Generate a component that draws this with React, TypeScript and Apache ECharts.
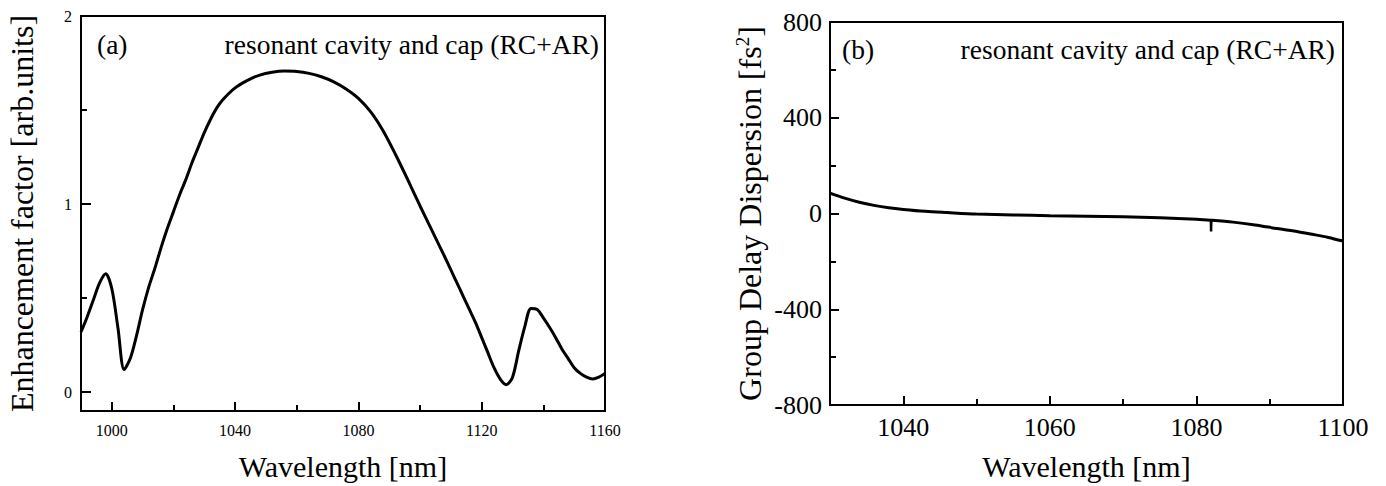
import React, { useEffect, useRef } from "react";
import * as echarts from "echarts";

// ---- Data (a): enhancement factor vs wavelength ----
const waveA = [990, 992, 994, 996, 998, 1000, 1002, 1004, 1006, 1008, 1010, 1012, 1014, 1016, 1018, 1020, 1022, 1024, 1026, 1028, 1030, 1032, 1034, 1036, 1040, 1044, 1048, 1052, 1056, 1060, 1064, 1068, 1072, 1076, 1080, 1084, 1088, 1092, 1096, 1100, 1104, 1108, 1110, 1112, 1114, 1116, 1118, 1120, 1122, 1124, 1126, 1128, 1130, 1132, 1134, 1136, 1138, 1140, 1142, 1144, 1146, 1148, 1150, 1152, 1154, 1156, 1158, 1160];
const enhA = [0.32, 0.40, 0.49, 0.58, 0.63, 0.55, 0.34, 0.12, 0.18, 0.30, 0.44, 0.56, 0.66, 0.77, 0.87, 0.96, 1.05, 1.13, 1.22, 1.30, 1.38, 1.45, 1.51, 1.555, 1.618, 1.658, 1.686, 1.701, 1.707, 1.705, 1.695, 1.677, 1.65, 1.612, 1.562, 1.49, 1.39, 1.265, 1.13, 0.99, 0.855, 0.72, 0.65, 0.58, 0.51, 0.44, 0.37, 0.29, 0.21, 0.13, 0.07, 0.04, 0.08, 0.22, 0.35, 0.445, 0.44, 0.395, 0.345, 0.29, 0.23, 0.18, 0.13, 0.10, 0.08, 0.07, 0.08, 0.10];

// ---- Data (b): group delay dispersion vs wavelength ----
const waveB = [1030, 1032, 1034, 1036, 1038, 1040, 1043, 1046, 1050, 1055, 1060, 1065, 1070, 1075, 1080, 1082, 1085, 1088, 1091, 1094, 1096, 1098, 1100];
const gddB = [85, 64, 47, 34, 24, 17, 9, 4, -2, -6, -9, -11, -14, -18, -24, -28, -36, -48, -63, -77, -88, -100, -115];
// narrow dip near 1082 nm
const dipWave = [1081.97, 1082, 1082.03];
const dipGdd = [-28, -75, -28];

// ---- Ticks ----
const ticksAX = [1000, 1040, 1080, 1120, 1160];
const minorAX = [1020, 1060, 1100, 1140];
const ticksAY = [0, 1, 2];
const minorAY = [0.5, 1.5];
const ticksBX = [1040, 1060, 1080, 1100];
const minorBX = [1050, 1070, 1090];
const ticksBY = [-800, -400, 0, 400, 800];
const minorBY = [-600, -200, 200, 600];

const FONT = "Liberation Serif";

export default function App() {
  const ref = useRef<HTMLDivElement>(null);
  useEffect(() => {
    if (!ref.current) return;
    const chart = echarts.init(ref.current, null, { renderer: "svg" });
    const black = "#000";
    const fmt = (v: number) => String(v);
    const majorX = (grid: number, min: number, max: number, vals: number[], fs: number, margin: number, len: number, name: string, nameGap: number) => ({
      type: "value", gridIndex: grid, min, max, position: "bottom",
      axisLine: { show: false, onZero: false },
      splitLine: { show: false },
      axisTick: { show: true, inside: true, length: len, customValues: vals, lineStyle: { color: black, width: 2 } },
      axisLabel: { show: true, customValues: vals, formatter: fmt, color: black, fontFamily: FONT, fontSize: fs, margin },
      name, nameLocation: "middle", nameGap,
      nameTruncate: { maxWidth: 2000 },
      nameTextStyle: { color: black, fontFamily: FONT, fontSize: 30 },
    });
    const minorX = (grid: number, min: number, max: number, vals: number[], len: number) => ({
      type: "value", gridIndex: grid, min, max, position: "bottom",
      axisLine: { show: false, onZero: false }, splitLine: { show: false },
      axisTick: { show: true, inside: true, length: len, customValues: vals, lineStyle: { color: black, width: 2 } },
      axisLabel: { show: false },
    });
    const majorY = (grid: number, min: number, max: number, vals: number[], fs: number, margin: number, len: number, name: string, nameGap: number, nameStyle: any) => ({
      type: "value", gridIndex: grid, min, max, position: "left",
      axisLine: { show: false, onZero: false }, splitLine: { show: false },
      axisTick: { show: true, inside: true, length: len, customValues: vals, lineStyle: { color: black, width: 2 } },
      axisLabel: { show: true, customValues: vals, formatter: fmt, color: black, fontFamily: FONT, fontSize: fs, margin },
      name, nameLocation: "middle", nameGap,
      nameTruncate: { maxWidth: 2000 },
      nameTextStyle: nameStyle,
    });
    const minorY = (grid: number, min: number, max: number, vals: number[], len: number) => ({
      type: "value", gridIndex: grid, min, max, position: "left",
      axisLine: { show: false, onZero: false }, splitLine: { show: false },
      axisTick: { show: true, inside: true, length: len, customValues: vals, lineStyle: { color: black, width: 2 } },
      axisLabel: { show: false },
    });
    const txt = (text: string) => ({ text, fill: black, fontFamily: FONT, fontSize: 27.5 });

    chart.setOption({
      animation: false,
      backgroundColor: "#fff",
      grid: [
        { left: 81, top: 16, width: 524, height: 396, show: true, borderColor: black, borderWidth: 2, backgroundColor: "transparent" },
        { left: 830, top: 22, width: 513, height: 386, show: true, borderColor: black, borderWidth: 2, backgroundColor: "transparent" },
      ],
      xAxis: [
        majorX(0, 990, 1160, ticksAX, 16, 11, 9, "Wavelength [nm]", 40),
        minorX(0, 990, 1160, minorAX, 6),
        majorX(1, 1030, 1100, ticksBX, 26, 9, 9, "Wavelength [nm]", 46),
        minorX(1, 1030, 1100, minorBX, 6),
      ],
      yAxis: [
        majorY(0, -0.1, 2, ticksAY, 16, 9, 10, "{t|Enhancement factor [arb.units]}", 43, {
          color: black, fontFamily: FONT, fontSize: 32,
          rich: { t: { fontFamily: FONT, fontSize: 32, color: black } },
        }),
        minorY(0, -0.1, 2, minorAY, 6),
        majorY(1, -800, 800, ticksBY, 26, 8, 9, "{t|Group Delay Dispersion [fs}{sup|2}{t|]}", 64, {
          color: black, fontFamily: FONT, fontSize: 32,
          rich: {
            t: { fontFamily: FONT, fontSize: 32, color: black },
            sup: { fontFamily: FONT, fontSize: 19, color: black, verticalAlign: "top", padding: [0, 0, 14, 0] },
          },
        }),
        minorY(1, -800, 800, minorBY, 6),
      ],
      series: [
        {
          type: "line", xAxisIndex: 0, yAxisIndex: 0,
          data: waveA.map((w, i) => [w, enhA[i]]),
          smooth: 0.3, showSymbol: false, symbol: "none",
          lineStyle: { color: black, width: 3 },
        },
        {
          type: "line", xAxisIndex: 2, yAxisIndex: 2,
          data: waveB.map((w, i) => [w, gddB[i]]),
          smooth: 0.3, showSymbol: false, symbol: "none",
          lineStyle: { color: black, width: 3 },
        },
        {
          type: "line", xAxisIndex: 2, yAxisIndex: 2,
          data: dipWave.map((w, i) => [w, dipGdd[i]]),
          smooth: false, showSymbol: false, symbol: "none",
          lineStyle: { color: black, width: 2.5 },
        },
      ],
      graphic: [
        { type: "text", left: 97, top: 30, style: txt("(a)") },
        { type: "text", right: 1386 - 599, top: 30, style: txt("resonant cavity and cap (RC+AR)") },
        { type: "text", left: 842, top: 35, style: txt("(b)") },
        { type: "text", right: 1386 - 1335, top: 35, style: txt("resonant cavity and cap (RC+AR)") },
      ],
    });
    return () => chart.dispose();
  }, []);
  return <div ref={ref} style={{ position: "fixed", left: 0, top: 0, width: 1386, height: 486, background: "#fff" }} />;
}
